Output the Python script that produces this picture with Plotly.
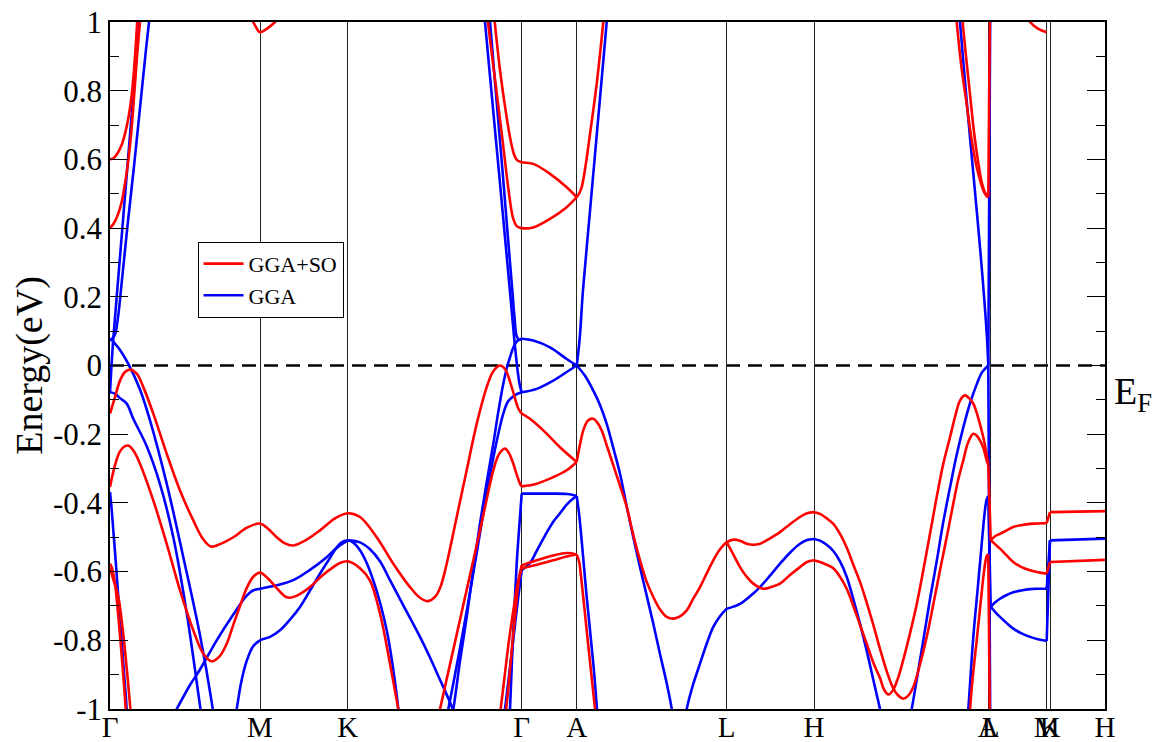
import plotly.graph_objects as go

# ---------------- high-symmetry path ----------------
KPOS = [0.0, 1.50, 2.377, 4.117, 4.667, 6.167, 7.04, 8.783, 8.807, 9.367, 9.40, 9.95]
KLAB = ["Γ", "M", "K", "Γ", "A", "L", "H", "A", "L", "M", "K", "H"]
YTICKS = [-1, -0.8, -0.6, -0.4, -0.2, 0, 0.2, 0.4, 0.6, 0.8, 1]
YLABS = ["-1", "-0.8", "-0.6", "-0.4", "-0.2", "0", "0.2", "0.4", "0.6", "0.8", "1"]
FERMI = 0.0

# ---------------- GGA+SO bands (k, E) ----------------
so_01 = [(0, 0.60), (0.04, 0.605), (0.08, 0.62), (0.12, 0.645), (0.15, 0.675), (0.18, 0.715), (0.21, 0.77), (0.24, 0.86), (0.27, 0.99), (0.28, 1.04)]
so_02 = [(0, 0.40), (0.04, 0.415), (0.08, 0.44), (0.12, 0.48), (0.15, 0.53), (0.18, 0.59), (0.21, 0.67), (0.24, 0.78), (0.27, 0.90), (0.30, 1.0), (0.31, 1.04)]
so_03 = [(0, -0.14), (0.05, -0.092), (0.10, -0.044), (0.15, -0.019), (0.20, -0.012), (0.267, -0.024), (0.333, -0.063), (0.433, -0.14),
         (0.567, -0.257), (0.70, -0.364), (0.833, -0.451), (0.93, -0.505), (1.01, -0.527), (1.10, -0.52), (1.233, -0.50), (1.37, -0.472),
         (1.50, -0.46), (1.58, -0.475), (1.667, -0.50), (1.75, -0.518), (1.833, -0.524), (1.95, -0.51), (2.10, -0.48), (2.25, -0.445),
         (2.377, -0.43), (2.50, -0.441), (2.667, -0.50), (2.833, -0.577), (3.00, -0.645), (3.10, -0.676), (3.18, -0.686), (3.26, -0.67),
         (3.31, -0.64), (3.367, -0.577), (3.417, -0.51), (3.467, -0.441), (3.567, -0.305), (3.667, -0.17), (3.767, -0.063), (3.83, -0.018),
         (3.90, 0.0), (3.95, -0.01), (4.017, -0.063), (4.083, -0.125), (4.117, -0.14)]
so_04 = [(0, -0.354), (0.05, -0.29), (0.10, -0.25), (0.15, -0.235), (0.183, -0.233), (0.24, -0.25), (0.30, -0.286), (0.433, -0.393),
         (0.567, -0.519), (0.70, -0.655), (0.833, -0.771), (0.933, -0.839), (1.017, -0.861), (1.10, -0.845), (1.167, -0.81), (1.233, -0.755),
         (1.30, -0.70), (1.367, -0.648), (1.433, -0.615), (1.50, -0.603), (1.58, -0.62), (1.667, -0.648), (1.75, -0.672), (1.80, -0.676),
         (1.87, -0.67), (2.00, -0.645), (2.12, -0.612), (2.233, -0.587), (2.30, -0.575), (2.377, -0.57), (2.50, -0.59), (2.60, -0.626),
         (2.70, -0.722), (2.80, -0.868), (2.883, -1.0), (2.92, -1.06)]
so_05 = [(3.26, -1.05), (3.30, -1.0), (3.40, -0.87), (3.50, -0.74), (3.60, -0.61), (3.70, -0.48), (3.77, -0.385), (3.833, -0.305),
         (3.89, -0.258), (3.95, -0.242), (3.99, -0.255), (4.033, -0.286), (4.07, -0.32), (4.10, -0.344), (4.117, -0.352)]
so_06 = [(0, -0.577), (0.02, -0.59), (0.05, -0.635), (0.08, -0.72), (0.11, -0.82), (0.14, -0.93), (0.165, -1.03)]
so_07 = [(0, -0.59), (0.03, -0.62), (0.083, -0.674), (0.12, -0.75), (0.15, -0.83), (0.18, -0.92), (0.21, -1.02)]
so_08 = [(3.95, -1.03), (3.98, -0.95), (4.02, -0.82), (4.06, -0.70), (4.09, -0.62), (4.117, -0.582)]
so_09 = [(3.89, -1.04), (3.94, -0.92), (3.99, -0.80), (4.04, -0.70), (4.08, -0.63), (4.117, -0.59)]
so_10 = [(3.83, 1.05), (3.90, 0.86), (3.967, 0.722), (4.01, 0.65), (4.04, 0.615), (4.07, 0.598), (4.117, 0.592), (4.233, 0.587),
         (4.40, 0.558), (4.567, 0.519), (4.667, 0.49)]
so_11 = [(3.76, 1.05), (3.80, 0.95), (3.86, 0.81), (3.92, 0.67), (3.96, 0.57), (3.995, 0.49), (4.03, 0.43), (4.07, 0.405),
         (4.117, 0.40), (4.233, 0.402), (4.40, 0.427), (4.567, 0.461), (4.667, 0.49)]
so_12 = [(4.667, 0.49), (4.69, 0.50), (4.717, 0.519), (4.76, 0.59), (4.80, 0.674), (4.867, 0.82), (4.933, 1.0), (4.95, 1.05)]
so_13 = [(4.117, -0.14), (4.20, -0.155), (4.333, -0.189), (4.50, -0.238), (4.667, -0.281)]
so_14 = [(4.117, -0.352), (4.267, -0.344), (4.433, -0.325), (4.567, -0.305), (4.667, -0.281)]
so_15 = [(4.117, -0.582), (4.267, -0.567), (4.433, -0.553), (4.567, -0.546), (4.667, -0.55)]
so_16 = [(4.117, -0.59), (4.267, -0.58), (4.433, -0.567), (4.567, -0.556), (4.667, -0.55)]
so_17 = [(4.667, -0.55), (4.69, -0.57), (4.72, -0.64), (4.767, -0.771), (4.81, -0.89), (4.85, -1.0), (4.87, -1.05)]
so_18 = [(4.667, -0.281), (4.70, -0.23), (4.733, -0.189), (4.78, -0.16), (4.833, -0.155), (4.87, -0.165), (4.917, -0.189),
         (4.97, -0.235), (5.033, -0.29), (5.10, -0.35), (5.167, -0.412), (5.23, -0.49), (5.30, -0.567), (5.367, -0.63),
         (5.433, -0.674), (5.50, -0.71), (5.567, -0.732), (5.633, -0.737), (5.70, -0.73), (5.767, -0.713), (5.83, -0.68),
         (5.90, -0.645), (5.967, -0.605), (6.033, -0.567), (6.10, -0.535), (6.167, -0.514)]
so_19 = [(6.167, -0.514), (6.233, -0.507), (6.30, -0.51), (6.367, -0.519), (6.43, -0.522), (6.50, -0.519), (6.60, -0.503),
         (6.70, -0.485), (6.80, -0.462), (6.90, -0.441), (6.97, -0.43), (7.04, -0.427)]
so_20 = [(6.167, -0.514), (6.233, -0.55), (6.30, -0.587), (6.367, -0.615), (6.433, -0.635), (6.533, -0.65), (6.61, -0.645),
         (6.70, -0.635), (6.80, -0.61), (6.90, -0.587), (6.97, -0.572), (7.04, -0.567)]
so_21 = [(7.04, -0.427), (7.10, -0.432), (7.167, -0.445), (7.233, -0.461), (7.30, -0.49), (7.367, -0.53), (7.433, -0.58),
         (7.50, -0.63), (7.567, -0.69), (7.633, -0.755), (7.70, -0.825), (7.767, -0.89), (7.833, -0.94), (7.88, -0.96),
         (7.933, -0.97), (7.98, -0.962), (8.033, -0.936), (8.10, -0.87), (8.167, -0.79), (8.233, -0.695), (8.30, -0.596),
         (8.367, -0.50), (8.433, -0.402), (8.48, -0.335), (8.533, -0.276), (8.58, -0.225), (8.633, -0.199), (8.67, -0.205),
         (8.70, -0.218), (8.733, -0.24), (8.767, -0.276), (8.783, -0.29)]
so_22 = [(7.04, -0.567), (7.10, -0.572), (7.167, -0.58), (7.233, -0.59), (7.30, -0.615), (7.367, -0.65), (7.433, -0.70),
         (7.50, -0.755), (7.567, -0.81), (7.633, -0.865), (7.70, -0.91), (7.74, -0.943), (7.785, -0.958), (7.83, -0.945),
         (7.88, -0.91), (7.93, -0.86), (8.00, -0.78), (8.067, -0.695), (8.133, -0.596), (8.20, -0.49), (8.267, -0.383),
         (8.33, -0.29), (8.40, -0.209), (8.45, -0.15), (8.50, -0.102), (8.55, -0.087), (8.59, -0.095), (8.633, -0.111),
         (8.68, -0.15), (8.733, -0.209), (8.767, -0.26), (8.783, -0.286)]
so_23 = [(8.45, 1.05), (8.467, 1.0), (8.51, 0.88), (8.567, 0.76), (8.61, 0.67), (8.667, 0.577), (8.71, 0.53), (8.74, 0.505),
         (8.767, 0.493), (8.783, 0.49)]
so_24 = [(8.515, 1.05), (8.527, 1.0), (8.56, 0.90), (8.60, 0.79), (8.64, 0.68), (8.683, 0.59), (8.72, 0.53), (8.755, 0.50), (8.783, 0.49)]
so_25 = [(8.59, -1.05), (8.62, -0.93), (8.667, -0.80), (8.71, -0.68), (8.74, -0.60), (8.767, -0.555), (8.783, -0.55)]
so_26 = [(8.783, 0.49), (8.807, 1.3)]
so_27 = [(8.783, -0.29), (8.807, -0.509)]
so_28 = [(8.783, -0.55), (8.807, -1.3)]
so_29 = [(8.807, -0.509), (8.85, -0.497), (8.90, -0.49), (8.967, -0.48), (9.033, -0.47), (9.11, -0.465), (9.20, -0.461), (9.28, -0.46), (9.367, -0.459)]
so_30 = [(8.807, -0.509), (8.85, -0.52), (8.90, -0.533), (8.967, -0.553), (9.033, -0.572), (9.11, -0.586), (9.20, -0.596), (9.28, -0.602), (9.367, -0.606)]
so_31 = [(9.367, -0.459), (9.40, -0.427)]
so_32 = [(9.40, -0.427), (9.95, -0.424)]
so_33 = [(9.367, -0.606), (9.40, -0.572)]
so_34 = [(9.40, -0.572), (9.95, -0.566)]
so_35 = [(1.41, 1.03), (1.433, 1.0), (1.46, 0.985), (1.48, 0.975), (1.50, 0.97), (1.54, 0.975), (1.59, 0.985), (1.65, 1.0), (1.68, 1.01)]
so_36 = [(9.18, 1.01), (9.20, 1.0), (9.283, 0.98), (9.367, 0.97)]

SO_BANDS = [so_01, so_02, so_03, so_04, so_05, so_06, so_07, so_08, so_09, so_10, so_11, so_12, so_13, so_14, so_15, so_16,
            so_17, so_18, so_19, so_20, so_21, so_22, so_23, so_24, so_25, so_26, so_27, so_28, so_29, so_30, so_31, so_32,
            so_33, so_34, so_35, so_36]

# ---------------- GGA bands (k, E) ----------------
gga_01 = [(0, -0.078), (0.015, 0.0), (0.033, 0.078), (0.10, 0.316), (0.163, 0.54), (0.23, 0.777), (0.293, 1.0), (0.31, 1.06)]
gga_02 = [(0, 0.075), (0.02, 0.078), (0.05, 0.09), (0.08, 0.14), (0.12, 0.25), (0.18, 0.42), (0.24, 0.58), (0.30, 0.75), (0.36, 0.92), (0.39, 1.0), (0.41, 1.06)]
gga_03 = [(0, 0.075), (0.02, 0.073), (0.06, 0.06), (0.10, 0.045), (0.183, 0.005), (0.30, -0.07), (0.40, -0.16), (0.567, -0.344),
          (0.733, -0.558), (0.90, -0.785), (1.017, -0.98), (1.04, -1.03)]
gga_04 = [(0, -0.078), (0.05, -0.082), (0.10, -0.095), (0.167, -0.111), (0.233, -0.155), (0.367, -0.235), (0.50, -0.345),
          (0.633, -0.50), (0.767, -0.72), (0.90, -0.99), (0.92, -1.03)]
gga_05 = [(0, -0.368), (0.017, -0.42), (0.033, -0.48), (0.06, -0.58), (0.083, -0.674), (0.11, -0.77), (0.133, -0.868), (0.16, -0.97), (0.17, -1.02)]
gga_06 = [(0.62, -1.025), (0.667, -1.0), (0.80, -0.93), (0.90, -0.885), (1.067, -0.80), (1.233, -0.725), (1.367, -0.67), (1.43, -0.655),
          (1.50, -0.65), (1.667, -0.64), (1.833, -0.625), (2.00, -0.595), (2.167, -0.558), (2.28, -0.528), (2.377, -0.509)]
gga_07 = [(1.24, -1.04), (1.267, -1.0), (1.31, -0.925), (1.367, -0.86), (1.43, -0.818), (1.50, -0.80), (1.60, -0.79), (1.70, -0.771),
          (1.80, -0.74), (1.90, -0.703), (2.00, -0.655), (2.10, -0.606), (2.20, -0.56), (2.267, -0.529), (2.32, -0.514), (2.377, -0.509)]
gga_08 = [(2.377, -0.509), (2.50, -0.515), (2.60, -0.535), (2.70, -0.57), (2.80, -0.625), (2.90, -0.68), (3.00, -0.735), (3.10, -0.79),
          (3.20, -0.85), (3.30, -0.915), (3.40, -0.98), (3.44, -1.01)]
gga_09 = [(2.377, -0.509), (2.43, -0.515), (2.50, -0.538), (2.567, -0.575), (2.633, -0.626), (2.70, -0.69), (2.767, -0.771), (2.82, -0.86),
          (2.867, -0.96), (2.89, -1.02)]
gga_10 = [(3.36, -1.03), (3.383, -1.0), (3.45, -0.90), (3.533, -0.771), (3.60, -0.66), (3.667, -0.545), (3.73, -0.435), (3.80, -0.32),
          (3.86, -0.23), (3.933, -0.14), (3.98, -0.105), (4.033, -0.09), (4.07, -0.083), (4.117, -0.078)]
gga_11 = [(3.41, -1.03), (3.433, -1.0), (3.50, -0.86), (3.567, -0.732), (3.63, -0.60), (3.70, -0.46), (3.767, -0.34), (3.833, -0.228),
          (3.88, -0.14), (3.933, -0.053), (3.97, -0.005), (4.00, 0.024), (4.03, 0.05), (4.067, 0.07), (4.117, 0.078)]
gga_12 = [(3.735, 1.05), (3.75, 1.0), (3.82, 0.78), (3.90, 0.53), (3.97, 0.31), (4.02, 0.15), (4.05, 0.055), (4.083, -0.03), (4.10, -0.06), (4.117, -0.078)]
gga_13 = [(3.785, 1.05), (3.80, 1.0), (3.86, 0.79), (3.92, 0.585), (3.98, 0.37), (4.02, 0.23), (4.045, 0.14), (4.067, 0.085), (4.09, 0.075), (4.117, 0.078)]
gga_14 = [(3.99, -1.06), (4.00, -1.0), (4.03, -0.79), (4.067, -0.577), (4.09, -0.48), (4.117, -0.373)]
gga_15 = [(3.93, -1.05), (3.95, -1.0), (4.00, -0.88), (4.04, -0.78), (4.08, -0.68), (4.117, -0.596)]
gga_16 = [(4.117, 0.078), (4.233, 0.073), (4.40, 0.053), (4.567, 0.019), (4.667, 0.0)]
gga_17 = [(4.117, -0.078), (4.267, -0.068), (4.433, -0.044), (4.567, -0.019), (4.667, 0.0)]
gga_18 = [(4.117, -0.373), (4.30, -0.373), (4.433, -0.373), (4.567, -0.374), (4.62, -0.376), (4.667, -0.38)]
gga_19 = [(4.117, -0.596), (4.20, -0.575), (4.267, -0.54), (4.35, -0.495), (4.433, -0.455), (4.50, -0.43), (4.567, -0.405), (4.62, -0.39), (4.667, -0.38)]
gga_20 = [(4.667, -0.38), (4.69, -0.43), (4.72, -0.52), (4.767, -0.674), (4.833, -0.868), (4.875, -1.02)]
gga_21 = [(4.667, 0.0), (4.68, 0.03), (4.70, 0.09), (4.73, 0.22), (4.80, 0.45), (4.87, 0.68), (4.94, 0.91), (4.97, 1.01)]
gga_22 = [(4.667, 0.0), (4.75, -0.03), (4.833, -0.073), (4.90, -0.115), (4.967, -0.17), (5.033, -0.24), (5.10, -0.315), (5.167, -0.41),
          (5.233, -0.50), (5.30, -0.587), (5.367, -0.67), (5.433, -0.752), (5.50, -0.84), (5.567, -0.925), (5.617, -0.999), (5.63, -1.03)]
gga_23 = [(5.75, -1.03), (5.767, -1.0), (5.83, -0.93), (5.90, -0.868), (5.967, -0.81), (6.033, -0.761), (6.10, -0.73), (6.167, -0.708)]
gga_24 = [(6.167, -0.708), (6.233, -0.702), (6.30, -0.694), (6.40, -0.672), (6.50, -0.645), (6.60, -0.612), (6.70, -0.577), (6.80, -0.545),
          (6.90, -0.519), (6.97, -0.508), (7.04, -0.505)]
gga_25 = [(7.04, -0.505), (7.10, -0.51), (7.167, -0.522), (7.233, -0.54), (7.30, -0.57), (7.367, -0.615), (7.433, -0.68), (7.50, -0.752),
          (7.567, -0.83), (7.633, -0.915), (7.70, -1.0), (7.72, -1.03)]
gga_26 = [(7.995, -1.03), (8.017, -1.0), (8.07, -0.91), (8.133, -0.80), (8.20, -0.68), (8.267, -0.57), (8.33, -0.46), (8.40, -0.355),
          (8.467, -0.26), (8.533, -0.18), (8.60, -0.11), (8.667, -0.055), (8.72, -0.02), (8.783, 0.0)]
gga_27 = [(8.49, 1.04), (8.50, 1.0), (8.567, 0.77), (8.633, 0.56), (8.68, 0.41), (8.717, 0.286), (8.75, 0.165), (8.77, 0.08), (8.783, 0.0)]
gga_28 = [(8.57, -1.04), (8.583, -1.0), (8.633, -0.79), (8.68, -0.64), (8.72, -0.51), (8.75, -0.42), (8.767, -0.39), (8.783, -0.38)]
gga_29 = [(8.783, 0.0), (8.807, 1.3)]
gga_30 = [(8.783, 0.0), (8.807, -1.3)]
gga_31 = [(8.783, -0.38), (8.807, -0.703)]
gga_32 = [(8.807, -0.703), (8.85, -0.69), (8.90, -0.679), (8.967, -0.668), (9.033, -0.66), (9.11, -0.655), (9.20, -0.651), (9.28, -0.65), (9.367, -0.65)]
gga_33 = [(8.807, -0.703), (8.85, -0.717), (8.90, -0.732), (8.967, -0.75), (9.033, -0.766), (9.11, -0.779), (9.20, -0.79), (9.28, -0.797), (9.367, -0.802)]
gga_34 = [(9.367, -0.65), (9.40, -0.509)]
gga_35 = [(9.367, -0.802), (9.40, -0.509)]
gga_36 = [(9.40, -0.509), (9.95, -0.504)]

GGA_BANDS = [gga_01, gga_02, gga_03, gga_04, gga_05, gga_06, gga_07, gga_08, gga_09, gga_10, gga_11, gga_12, gga_13, gga_14,
             gga_15, gga_16, gga_17, gga_18, gga_19, gga_20, gga_21, gga_22, gga_23, gga_24, gga_25, gga_26, gga_27, gga_28,
             gga_29, gga_30, gga_31, gga_32, gga_33, gga_34, gga_35, gga_36]

SERIES = [("GGA", GGA_BANDS, "#0000ff", 2), ("GGA+SO", SO_BANDS, "#ff0000", 1)]

FONT = "Liberation Serif"

fig = go.Figure()
for name, bands, color, rank in SERIES:
    for i, band in enumerate(bands):
        fig.add_trace(go.Scatter(
            x=[p[0] for p in band], y=[p[1] for p in band],
            mode="lines", name=name, legendgroup=name, legendrank=rank,
            showlegend=(i == 0), hoverinfo="skip",
            line=dict(color=color, width=2.6, shape="spline", smoothing=1.0),
        ))

fig.add_shape(type="line", xref="paper", x0=0, x1=1, yref="y", y0=FERMI, y1=FERMI,
              line=dict(color="black", width=2.4, dash="14px,8px"), layer="between")

fig.add_annotation(xref="paper", x=1, xanchor="left", xshift=7, yref="y", y=FERMI, yanchor="top", yshift=-2,
                   text="E<sub>F</sub>", showarrow=False, font=dict(family=FONT, size=38, color="black"))

# the page body adds an 8px offset, so the figure is sized 8px smaller to fill the 1160x742 window
fig.update_layout(
    width=1152, height=734,
    margin=dict(l=102, r=55, t=14, b=33, autoexpand=False),
    paper_bgcolor="white", plot_bgcolor="white",
    font=dict(family=FONT, color="black"),
    legend=dict(x=0.088, y=0.68, xanchor="left", yanchor="top", bgcolor="white",
                bordercolor="black", borderwidth=1, font=dict(family=FONT, size=22, color="black"),
                traceorder="normal", tracegroupgap=0, itemwidth=40),
    showlegend=True,
)
fig.update_xaxes(range=[KPOS[0], KPOS[-1]], tickvals=KPOS, ticktext=KLAB, ticks="", tickangle=0, automargin=False,
                 ticklabeloverflow="allow", ticklabelstandoff=-9,
                 showgrid=True, gridcolor="#222222", gridwidth=1.4, zeroline=False,
                 showline=True, linecolor="black", linewidth=1.5, mirror=True,
                 tickfont=dict(family=FONT, size=29, color="black"))
fig.update_yaxes(range=[-1, 1], tickvals=YTICKS, ticktext=YLABS, ticks="inside", ticklen=18, tickwidth=1.3, automargin=False,
                 ticklabeloverflow="allow",
                 tickcolor="black", showgrid=False, zeroline=False,
                 minor=dict(dtick=0.1, tick0=0, ticks="inside", ticklen=9, tickwidth=1.3, tickcolor="black"),
                 showline=True, linecolor="black", linewidth=1.5, mirror="ticks",
                 tickfont=dict(family=FONT, size=31, color="black"),
                 title=dict(text="Energy(eV)", font=dict(family=FONT, size=38, color="black"), standoff=8))

fig.write_html("out.html")
